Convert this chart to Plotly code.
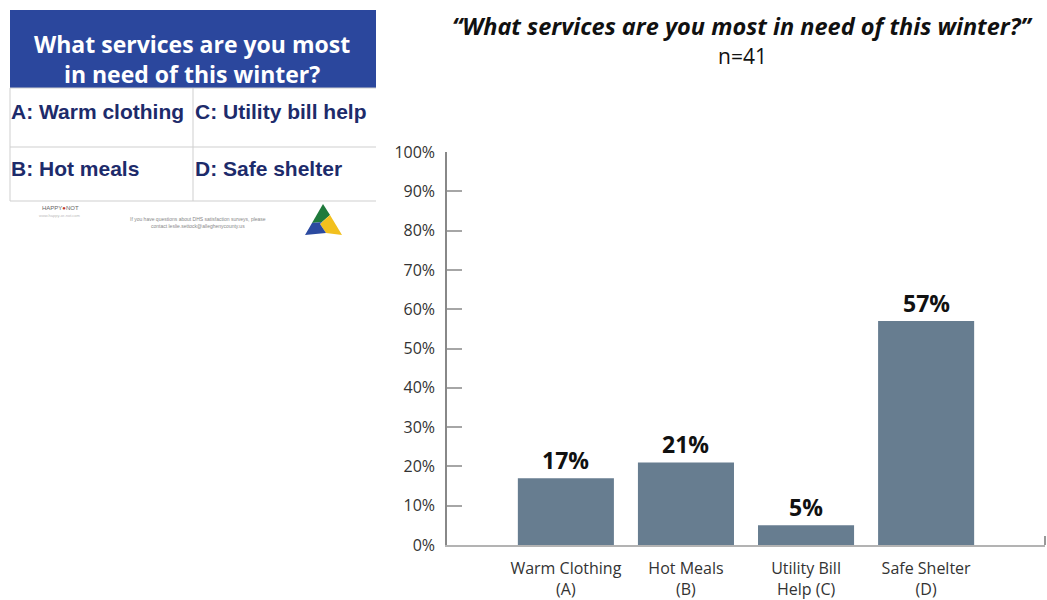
import plotly.graph_objects as go

W, H = 1047, 600

categories = ["Warm Clothing<br>(A)", "Hot Meals<br>(B)", "Utility Bill<br>Help (C)", "Safe Shelter<br>(D)"]
values = [17, 21, 5, 57]
value_labels = ["17%", "21%", "5%", "57%"]
y_ticks = [0, 10, 20, 30, 40, 50, 60, 70, 80, 90, 100]
y_tick_text = [f"{v}%" for v in y_ticks]

title_text = "“What services are you most in need of this winter?”"
subtitle_text = "n=41"
sign_header = "What services are you most<br>in need of this winter?"
sign_options = [("A: Warm clothing", 9, 111), ("C: Utility bill help", 193, 111),
                ("B: Hot meals", 9, 168), ("D: Safe shelter", 193, 168)]

FONT = "Open Sans"
BAR = "#677d90"


def px(x):
    return x / W


def py(y):
    return 1 - y / H


fig = go.Figure()
fig.add_trace(go.Bar(x=categories, y=values, marker=dict(color=BAR, line=dict(width=0)),
                     width=0.8, hoverinfo="skip"))

annotations = []
for c, v, t in zip(categories, values, value_labels):
    annotations.append(dict(x=c, y=v, xref="x", yref="y", text=f"<b>{t}</b>", showarrow=False,
                            yanchor="bottom", yshift=0,
                            font=dict(family=FONT, size=23, color="#111111")))

# Title
annotations.append(dict(x=px(742), y=py(26), xref="paper", yref="paper", text=f"<b><i>{title_text}</i></b>",
                        showarrow=False, xanchor="center", yanchor="middle",
                        font=dict(family=FONT, size=23.5, color="#111111")))
annotations.append(dict(x=px(742), y=py(56), xref="paper", yref="paper", text=subtitle_text,
                        showarrow=False, xanchor="center", yanchor="middle",
                        font=dict(family=FONT, size=21, color="#111111")))

# Sign image recreation
shapes = []
shapes.append(dict(type="rect", xref="paper", yref="paper", x0=px(10), x1=px(376), y0=py(88), y1=py(10),
                   fillcolor="#2b479d", line=dict(width=0), layer="below"))
grid = "#cfcfcf"
for yy in [88, 147, 201]:
    shapes.append(dict(type="line", xref="paper", yref="paper", x0=px(10), x1=px(376), y0=py(yy), y1=py(yy),
                       line=dict(color=grid, width=1)))
for xx in [10, 193]:
    shapes.append(dict(type="line", xref="paper", yref="paper", x0=px(xx), x1=px(xx), y0=py(88), y1=py(201),
                       line=dict(color=grid, width=1)))

annotations.append(dict(x=px(192), y=py(59.5), xref="paper", yref="paper", text=f"<b>{sign_header}</b>",
                        showarrow=False, xanchor="center", yanchor="middle", align="center",
                        font=dict(family=FONT, size=23, color="white")))
for txt, xx, yy in sign_options:
    annotations.append(dict(x=px(xx), y=py(yy), xref="paper", yref="paper", text=f"<b>{txt}</b>",
                            showarrow=False, xanchor="left", yanchor="middle",
                            font=dict(family="Liberation Sans", size=21, color="#1d2b6b")))

annotations.append(dict(x=px(60), y=py(208), xref="paper", yref="paper", text="HAPPY<span style='color:#c0392b'>●</span>NOT",
                        showarrow=False, xanchor="center", yanchor="middle",
                        font=dict(family="Liberation Sans", size=6, color="#666666")))
annotations.append(dict(x=px(60), y=py(215), xref="paper", yref="paper", text="www.happy-or-not.com",
                        showarrow=False, xanchor="center", yanchor="middle",
                        font=dict(family="Liberation Sans", size=4, color="#bbbbbb")))
annotations.append(dict(x=px(198), y=py(222), xref="paper", yref="paper",
                        text="If you have questions about DHS satisfaction surveys, please<br>contact leslie.settock@alleghenycounty.us",
                        showarrow=False, xanchor="center", yanchor="middle", align="center",
                        font=dict(family="Liberation Sans", size=5, color="#888888")))


def path(points):
    s = "M " + " L ".join(f"{px(a)},{py(b)}" for a, b in points) + " Z"
    return s


shapes.append(dict(type="path", xref="paper", yref="paper", path=path([(323, 204), (312, 223), (322, 222), (330, 215)]),
                   fillcolor="#1f7a3c", line=dict(width=0)))
shapes.append(dict(type="path", xref="paper", yref="paper", path=path([(330, 215), (342, 235), (326, 233), (320, 224)]),
                   fillcolor="#f2c01e", line=dict(width=0)))
shapes.append(dict(type="path", xref="paper", yref="paper", path=path([(312, 223), (305, 235), (326, 233), (320, 224), (322, 222)]),
                   fillcolor="#2b4aa0", line=dict(width=0)))

# Right end tick of x axis
shapes.append(dict(type="line", xref="x domain", yref="paper", x0=1, x1=1, y0=py(545), y1=py(536),
                   line=dict(color="#777777", width=1.5)))

fig.update_layout(
    width=W, height=H,
    margin=dict(l=0, r=0, t=0, b=0),
    paper_bgcolor="white", plot_bgcolor="white",
    showlegend=False,
    annotations=annotations,
    shapes=shapes,
    bargap=0.2,
    xaxis=dict(domain=[px(447), px(1045)], range=[-0.99, 3.99], showline=True, linecolor="#b3b3b3",
               linewidth=2, ticks="", showgrid=False, zeroline=False, automargin=False,
               ticklabelstandoff=8,
               tickfont=dict(family=FONT, size=16, color="#333333"), fixedrange=True),
    yaxis=dict(domain=[py(545), py(152)], range=[0, 100], tickmode="array", tickvals=y_ticks, ticktext=y_tick_text,
               showline=True, linecolor="#888888", linewidth=1.5, ticks="inside", ticklen=15,
               tickcolor="#a6a6a6", tickwidth=2, showgrid=False, zeroline=False, automargin=False,
               ticklabelstandoff=7,
               tickfont=dict(family=FONT, size=16, color="#333333"), fixedrange=True),
)

fig.write_html("out.html")
